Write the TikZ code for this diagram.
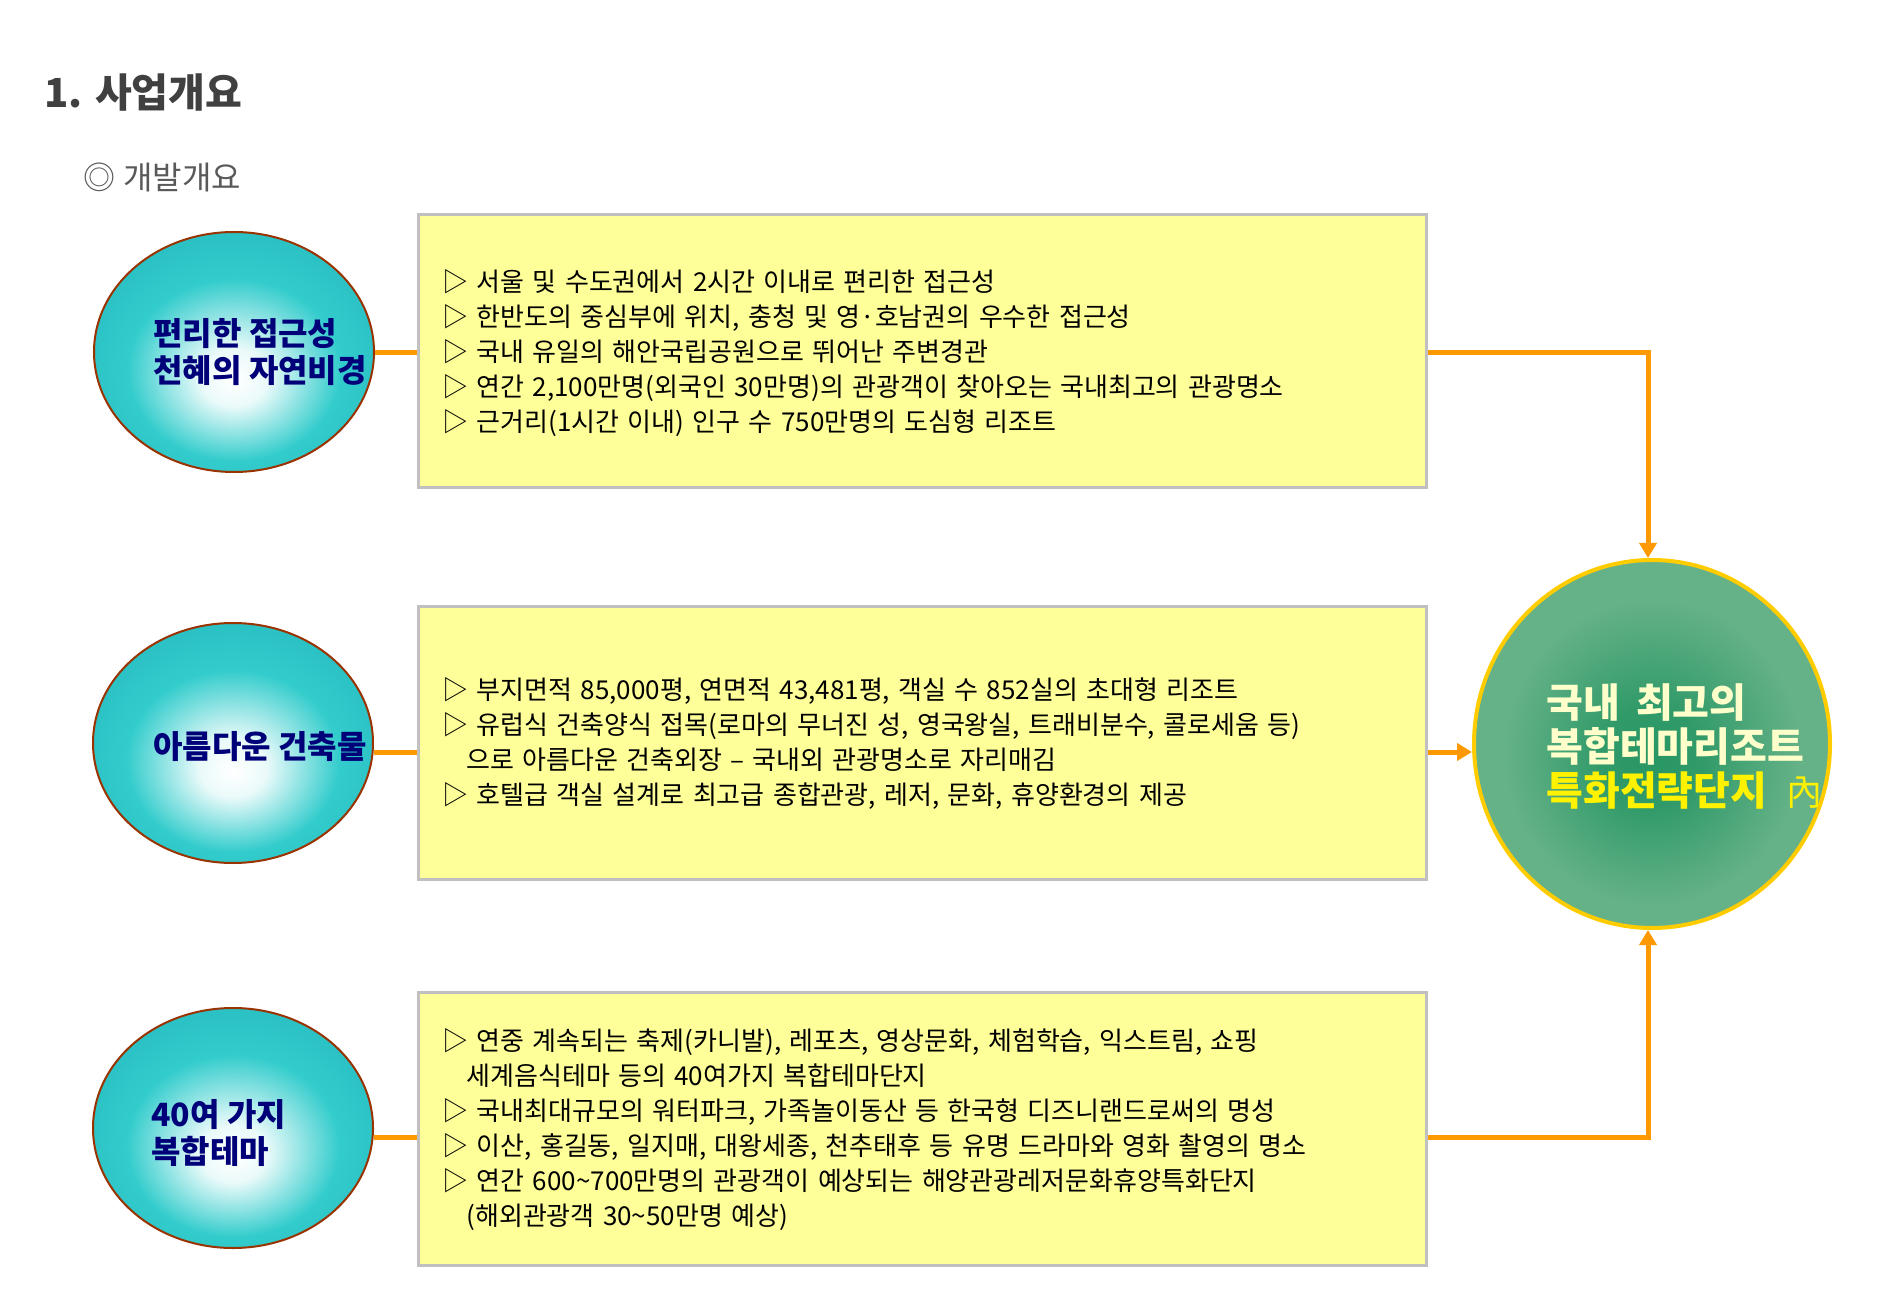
\documentclass[tikz,border=0pt]{standalone}
\usepackage{fontspec}
\setmainfont{Noto Sans CJK KR}
\newfontfamily\boxfont[WordSpace=1.43]{Noto Sans CJK KR}
\usetikzlibrary{arrows.meta,shapes.geometric,calc}
\definecolor{tq}{RGB}{51,204,204}
\definecolor{tqd}{RGB}{42,192,196}
\definecolor{brn}{RGB}{153,51,0}
\definecolor{navy}{RGB}{0,0,120}
\definecolor{boxy}{RGB}{255,255,153}
\definecolor{boxb}{RGB}{192,192,192}
\definecolor{org}{RGB}{255,153,0}
\definecolor{gd}{RGB}{40,150,100}
\definecolor{gl}{RGB}{102,178,136}
\definecolor{gold}{RGB}{255,204,0}
\definecolor{cream}{RGB}{255,255,204}
\definecolor{ttl}{RGB}{64,64,64}
\definecolor{subc}{RGB}{89,89,89}
\pgfdeclareradialshading{ellsh}{\pgfpoint{0bp}{-6bp}}{color(0bp)=(white); color(6bp)=(white!90!tq); color(19bp)=(tq); color(28bp)=(tqd); color(50bp)=(tqd)}
\pgfdeclareradialshading{bigsh}{\pgfpoint{0bp}{-2bp}}{color(0bp)=(gd); color(7bp)=(gd!85!gl); color(21bp)=(gl); color(50bp)=(gl)}
\begin{document}
\begin{tikzpicture}[x=0.5pt,y=-0.5pt,
  ellnode/.style={ellipse, minimum width=140pt, minimum height=120pt, inner sep=0pt, draw=brn, line width=1pt, shading=ellsh},
  elltext/.style={anchor=west, align=left, inner sep=0pt, text=navy, font=\fontsize{16}{18.5}\selectfont\bfseries},
  boxnode/.style={rectangle, fill=boxy, draw=boxb, line width=1.5pt, minimum width=504pt, minimum height=136.5pt, inner sep=0pt},
  boxtext/.style={anchor=west, align=left, inner sep=0pt, font=\boxfont\fontsize{13}{17.5}\selectfont},
  conn/.style={draw=org, line width=2.5pt},
  arr/.style={conn, -{Triangle[length=7.5pt,width=8.5pt]}}]
\useasboundingbox (0,0) rectangle (1900,1315);

% title
\node[anchor=west, inner sep=0pt, text=ttl, font=\fontsize{20}{20}\selectfont\bfseries] (title) at (44,93) {1. 사업개요};
\node[anchor=west, inner sep=0pt, text=subc, font=\fontsize{16}{16}\selectfont] (subt) at (83,177) {◎\hspace{4pt}개발개요};

% ellipses
\node[ellnode] (e1) at (234,352) {};
\node[ellnode] (e2) at (233,743) {};
\node[ellnode] (e3) at (233,1128) {};
\node[elltext] (t1) at (153,352) {편리한 접근성\\천혜의 자연비경};
\node[elltext] (t2) at (153,747) {아름다운 건축물};
\node[elltext] (t3) at (151,1133) {40여 가지\\복합테마};

% boxes
\node[boxnode] (b1) at (922,351.5) {};
\node[boxnode] (b2) at (922,743) {};
\node[boxnode] (b3) at (922,1128.5) {};

\node[boxtext] (bt1) at (442,353) {▷ 서울 및 수도권에서 2시간 이내로 편리한 접근성\\
▷ 한반도의 중심부에 위치, 충청 및 영·호남권의 우수한 접근성\\
▷ 국내 유일의 해안국립공원으로 뛰어난 주변경관\\
▷ 연간 2,100만명(외국인 30만명)의 관광객이 찾아오는 국내최고의 관광명소\\
▷ 근거리(1시간 이내) 인구 수 750만명의 도심형 리조트};

\node[boxtext] (bt2) at (442,743.5) {▷ 부지면적 85,000평, 연면적 43,481평, 객실 수 852실의 초대형 리조트\\
▷ 유럽식 건축양식 접목(로마의 무너진 성, 영국왕실, 트래비분수, 콜로세움 등)\\
\hspace*{12pt}으로 아름다운 건축외장 – 국내외 관광명소로 자리매김\\
▷ 호텔급 객실 설계로 최고급 종합관광, 레저, 문화, 휴양환경의 제공};

\node[boxtext] (bt3) at (442,1129.5) {▷ 연중 계속되는 축제(카니발), 레포츠, 영상문화, 체험학습, 익스트림, 쇼핑\\
\hspace*{12pt}세계음식테마 등의 40여가지 복합테마단지\\
▷ 국내최대규모의 워터파크, 가족놀이동산 등 한국형 디즈니랜드로써의 명성\\
▷ 이산, 홍길동, 일지매, 대왕세종, 천추태후 등 유명 드라마와 영화 촬영의 명소\\
▷ 연간 600\textasciitilde700만명의 관광객이 예상되는 해양관광레저문화휴양특화단지\\
\hspace*{12pt}(해외관광객 30\textasciitilde50만명 예상)};

% big circle
\node[ellipse, minimum width=178pt, minimum height=184pt, inner sep=0pt, draw=gold, line width=2pt, shading=bigsh] (big) at (1652,744) {};
\node[anchor=west, align=left, inner sep=0pt, font=\fontsize{20}{22}\selectfont\bfseries] (bigt) at (1546,746)
 {\textcolor{cream}{국내\hspace{8pt}최고의}\\\textcolor{cream}{복합테마리조트}\\\textcolor{yellow}{특화전략단지}\hspace{9.5pt}{\mdseries\fontsize{18}{22}\selectfont\textcolor{yellow}{內}}};

% connectors
\coordinate (y1) at (0,353);
\coordinate (y2) at (0,752);
\coordinate (y3) at (0,1137);
\draw[conn] (e1.east |- y1) -- (b1.west |- y1);
\draw[conn] (e2.east |- y2) -- (b2.west |- y2);
\draw[conn] (e3.east |- y3) -- (b3.west |- y3);
\draw[arr] (b1.east |- y1) -| ([xshift=-2pt]big.north);
\draw[arr] (b2.east |- y2) -- (big.west |- y2);
\draw[arr] (b3.east |- y3) -| ([xshift=-2pt]big.south);
\end{tikzpicture}
\end{document}
